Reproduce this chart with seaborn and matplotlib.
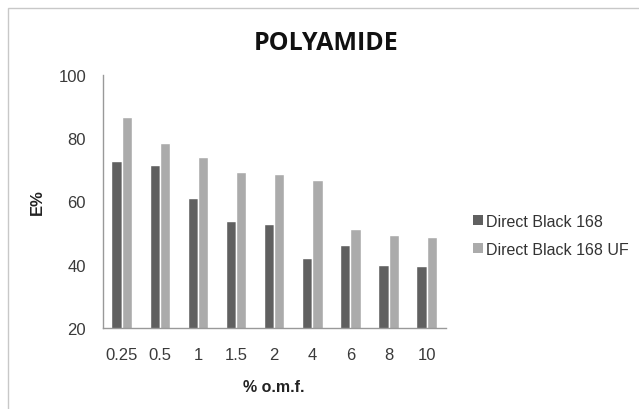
import matplotlib
matplotlib.use("Agg")
import matplotlib.pyplot as plt
import seaborn as sns
import pandas as pd
from matplotlib.patches import Rectangle, Patch

categories = ["0.25", "0.5", "1", "1.5", "2", "4", "6", "8", "10"]
db168 = [72.9, 71.6, 61.1, 53.8, 53.0, 42.2, 46.1, 39.8, 39.5]
db168_uf = [86.6, 78.6, 74.2, 69.2, 68.6, 66.8, 51.4, 49.3, 48.9]
series_names = ["Direct Black 168", "Direct Black 168 UF"]

df = pd.DataFrame({
    "omf": categories * 2,
    "E": db168 + db168_uf,
    "series": [series_names[0]] * len(categories) + [series_names[1]] * len(categories),
})

sns.set_theme(style="white")
plt.rcParams['font.family'] = ['Liberation Sans', 'DejaVu Sans']

fig = plt.figure(figsize=(6.39, 4.10), dpi=100)
ax = fig.add_axes([0.1607, 0.1976, 0.5368, 0.617])

palette = {series_names[0]: "#606060", series_names[1]: "#ababab"}
sns.barplot(data=df, x="omf", y="E", hue="series", order=categories,
            hue_order=series_names, palette=palette, width=0.54,
            saturation=1, ax=ax, legend=False)

ax.set_ylim(20, 100)
ax.set_yticks([20, 40, 60, 80, 100])
ax.tick_params(axis="y", length=0, labelsize=12, colors="#3a3a3a", pad=12)
ax.tick_params(axis="x", length=0, labelsize=12, colors="#3a3a3a", pad=14)
for s in ["top", "right"]:
    ax.spines[s].set_visible(False)
for s in ["left", "bottom"]:
    ax.spines[s].set_color("#999999")
    ax.spines[s].set_linewidth(1)
ax.set_xlabel("% o.m.f.", fontsize=11.5, fontweight="bold", color="#222222", labelpad=12)
ax.set_ylabel("E%", fontsize=12, fontweight="bold", color="#222222", labelpad=10)

fig.text(0.51, 0.895, "POLYAMIDE", ha="center", va="center",
         fontsize=18, fontweight="bold", family=["Open Sans", "DejaVu Sans"], color="#111111")

handles = [Patch(facecolor=palette[n], edgecolor="none") for n in series_names]
fig.legend(handles, series_names, loc="center left", bbox_to_anchor=(0.718, 0.424),
           frameon=False, fontsize=11.5, handlelength=0.6, handleheight=0.6,
           handletextpad=0.2, labelspacing=0.8, labelcolor="#333333")

fig.patches.append(Rectangle((8/639, -0.1), 1.2, 1 - 9/410 + 0.1, transform=fig.transFigure,
                             fill=False, edgecolor="#c8c8c8", linewidth=1))

fig.savefig("out.png", dpi=100)
